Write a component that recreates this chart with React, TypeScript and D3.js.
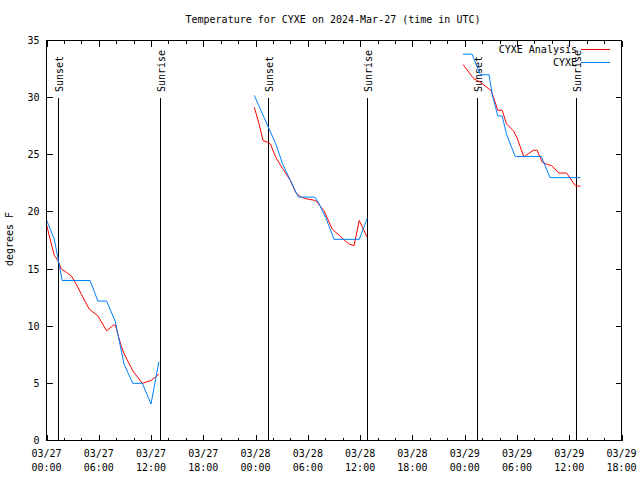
import React from "react";
import * as d3 from "d3";

const TITLE = "Temperature for CYXE on 2024-Mar-27 (time in UTC)";
const Y_LABEL = "degrees F";
const START_UTC = Date.UTC(2024, 2, 27, 0, 0);
const END_HOUR = 66;
const X_TICK_HOURS = [0, 6, 12, 18, 24, 30, 36, 42, 48, 54, 60, 66];
const X_MINOR_HOURS = d3.range(0, 67, 2);
const Y_TICKS = [0, 5, 10, 15, 20, 25, 30, 35];

const SUN_HOURS = [1.3, 13.0, 25.45, 36.8, 49.4, 60.75];
const SUN_LABELS = ["Sunset", "Sunrise", "Sunset", "Sunrise", "Sunset", "Sunrise"];

const SERIES_NAMES = ["CYXE Analysis", "CYXE"];
const SERIES_COLORS = ["#ff0000", "#0080ff"];

// [hour since 03/27 00:00 UTC, temperature F]
const ANALYSIS_1: [number, number][] = [
  [0, 18.9], [0.55, 17.2], [0.9, 16.2], [1.3, 15.75], [1.7, 15.0], [2.3, 14.7], [2.85, 14.4],
  [3.4, 13.7], [4.0, 12.8], [4.9, 11.5], [5.9, 10.9], [6.9, 9.6], [7.7, 10.1], [7.9, 10.1],
  [8.6, 8.2], [8.9, 7.6], [9.9, 6.1], [11.0, 5.0], [12.0, 5.25], [12.9, 5.8],
];
const ANALYSIS_2: [number, number][] = [
  [23.85, 29.15], [24.4, 27.7], [24.85, 26.25], [25.35, 26.1], [25.7, 25.95], [26.3, 24.8],
  [27.1, 23.8], [28.0, 22.75], [28.6, 21.7], [29.2, 21.3], [29.8, 21.15], [30.9, 21.0],
  [31.85, 20.1], [32.8, 18.5], [33.8, 17.8], [34.7, 17.2], [35.3, 17.05], [35.9, 19.25], [36.8, 17.8],
];
const ANALYSIS_3: [number, number][] = [
  [47.8, 32.9], [49.05, 31.65], [49.8, 31.35], [51.05, 30.6], [51.8, 28.9], [52.3, 28.9],
  [52.8, 27.7], [53.6, 27.1], [54.0, 26.5], [54.8, 24.8], [55.3, 25.1], [55.9, 25.4], [56.3, 25.4],
  [56.9, 24.35], [57.5, 24.15], [58.0, 24.05], [58.8, 23.4], [59.7, 23.4], [60.7, 22.3], [61.3, 22.25],
];
const OBS_1: [number, number][] = [
  [0, 19.3], [0.9, 17.6], [1.8, 14.0], [5.0, 14.0], [5.9, 12.2], [6.9, 12.2], [7.9, 10.4],
  [8.9, 6.7], [9.9, 5.0], [11.0, 5.0], [12.0, 3.2], [12.9, 6.9],
];
const OBS_2: [number, number][] = [
  [23.85, 30.2], [25.35, 27.6], [26.3, 26.0], [27.1, 24.2], [28.0, 22.75], [28.9, 21.3],
  [30.8, 21.3], [31.3, 20.7], [32.05, 19.5], [33.0, 17.6], [35.9, 17.6], [36.8, 19.4],
];
const OBS_3: [number, number][] = [
  [47.8, 33.8], [48.85, 33.8], [49.8, 32.0], [50.8, 32.0], [51.15, 30.3], [51.8, 28.4],
  [52.3, 28.4], [52.8, 26.8], [53.8, 24.85], [56.8, 24.85], [57.8, 23.0], [61.3, 23.0],
];

const ANALYSIS_SEGMENTS = [ANALYSIS_1, ANALYSIS_2, ANALYSIS_3];
const OBS_SEGMENTS = [OBS_1, OBS_2, OBS_3];

const FONT = "'DejaVu Sans Mono', 'Liberation Mono', monospace";

export default function App() {
  const W = 640, H = 480;
  const left = 46.5, right = 621.5, top = 40.5, bottom = 440.5;
  const toDate = (h: number) => new Date(START_UTC + h * 3600 * 1000);
  const x = d3.scaleUtc().domain([toDate(0), toDate(END_HOUR)]).range([left, right]);
  const y = d3.scaleLinear().domain([0, 35]).range([bottom, top]);
  const line = d3
    .line<[number, number]>()
    .x((d) => x(toDate(d[0])))
    .y((d) => y(d[1]));
  const fmtDate = d3.utcFormat("%m/%d");
  const fmtTime = d3.utcFormat("%H:%M");

  return (
    <svg
      width={W}
      height={H}
      style={{ position: "absolute", left: 0, top: 0, background: "#fff" }}
      fontFamily={FONT}
      fontSize={10}
    >
      <rect x={0} y={0} width={W} height={H} fill="#fff" />
      <text x={333} y={23} textAnchor="middle" fill="#000">{TITLE}</text>

      {/* minor x ticks */}
      {X_MINOR_HOURS.map((h) => {
        const px = Math.round(x(toDate(h))) + 0.5;
        return (
          <g key={"mx" + h} stroke="#000" shapeRendering="crispEdges">
            <line x1={px} x2={px} y1={bottom} y2={bottom - 3} />
            <line x1={px} x2={px} y1={top} y2={top + 3} />
          </g>
        );
      })}
      {X_TICK_HOURS.map((h) => {
        const px = Math.round(x(toDate(h))) + 0.5;
        const d = toDate(h);
        return (
          <g key={"x" + h}>
            <line x1={px} x2={px} y1={bottom} y2={bottom - 6} stroke="#000" shapeRendering="crispEdges" />
            <line x1={px} x2={px} y1={top} y2={top + 6} stroke="#000" shapeRendering="crispEdges" />
            <text x={x(d)} y={457} textAnchor="middle" fill="#000">{fmtDate(d)}</text>
            <text x={x(d)} y={471} textAnchor="middle" fill="#000">{fmtTime(d)}</text>
          </g>
        );
      })}
      {Y_TICKS.map((t) => {
        const py = Math.round(y(t) - 0.5) + 0.5;
        return (
          <g key={"y" + t}>
            <line x1={left} x2={left + 6} y1={py} y2={py} stroke="#000" shapeRendering="crispEdges" />
            <line x1={right} x2={right - 6} y1={py} y2={py} stroke="#000" shapeRendering="crispEdges" />
            <text x={39.5} y={py} dy="0.35em" textAnchor="end" fill="#000">{t}</text>
          </g>
        );
      })}
      <text transform={`translate(13,239) rotate(-90)`} textAnchor="middle" fill="#000">{Y_LABEL}</text>

      {/* sunrise / sunset */}
      {SUN_HOURS.map((h, i) => {
        const px = Math.round(x(toDate(h))) + 0.5;
        return (
          <g key={"s" + i}>
            <line x1={px} x2={px} y1={98} y2={bottom} stroke="#000" shapeRendering="crispEdges" />
            <text transform={`translate(${px + 4.5},92) rotate(-90)`} textAnchor="start" fill="#000">
              {SUN_LABELS[i]}
            </text>
          </g>
        );
      })}

      {ANALYSIS_SEGMENTS.map((seg, i) => (
        <path key={"a" + i} d={line(seg) || ""} fill="none" stroke={SERIES_COLORS[0]} strokeWidth={1} />
      ))}
      {OBS_SEGMENTS.map((seg, i) => (
        <path key={"o" + i} d={line(seg) || ""} fill="none" stroke={SERIES_COLORS[1]} strokeWidth={1} />
      ))}

      {/* legend */}
      {SERIES_NAMES.map((name, i) => {
        const ly = 49.5 + i * 13;
        return (
          <g key={"l" + i}>
            <text x={577} y={ly} dy="0.35em" textAnchor="end" fill="#000">{name}</text>
            <line x1={581} x2={610} y1={ly} y2={ly} stroke={SERIES_COLORS[i]} shapeRendering="crispEdges" />
          </g>
        );
      })}

      <rect
        x={left}
        y={top}
        width={right - left}
        height={bottom - top}
        fill="none"
        stroke="#000"
        shapeRendering="crispEdges"
      />
    </svg>
  );
}
